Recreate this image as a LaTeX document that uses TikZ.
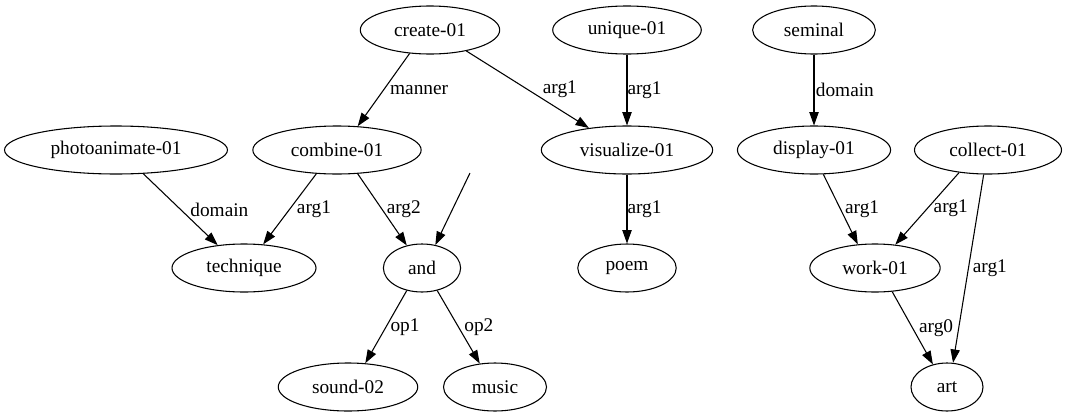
\documentclass[tikz,border=0pt]{standalone}
\usepackage{fontspec}
\setmainfont{Liberation Serif}
\usetikzlibrary{shapes.geometric,arrows.meta}

\begin{document}
\begin{tikzpicture}[
  x = 0.75pt, y = -0.75pt,
  line width = 0.8pt,
  >= {Triangle[length = 10pt, width = 7pt]},
  every node/.style = {font = \fontsize{14.5}{16}\selectfont},
  concept/.style = {draw, ellipse, minimum width = 54pt, minimum height = 36pt,
                    inner xsep = 10pt, inner ysep = 0pt},
  role/.style = {midway, anchor = west, inner sep = 0pt, xshift = #1},
  role/.default = 3pt,
  ]
  \useasboundingbox (0,0) rectangle (1067,418);

  % top row
  \node[concept] (create)  at (430,30) {create-01};
  \node[concept] (unique)  at (627,30) {unique-01};
  \node[concept] (seminal) at (814,30) {seminal};

  % second row
  \node[concept] (photo)     at (116,150) {photoanimate-01};
  \node[concept] (combine)   at (337,150) {combine-01};
  \node[concept] (visualize) at (627,150) {visualize-01};
  \node[concept] (display)   at (814,150) {display-01};
  \node[concept] (collect)   at (988,150) {collect-01};
  \coordinate (stub) at (470,173);

  % third row
  \node[concept] (technique) at (244,268) {technique};
  \node[concept] (and)       at (422,268) {and};
  \node[concept] (poem)      at (627,268) {poem};
  \node[concept] (work)      at (875,268) {work-01};

  % bottom row
  \node[concept] (sound) at (348,387) {sound-02};
  \node[concept] (music) at (495,387) {music};
  \node[concept] (art)   at (947,387) {art};

  \draw[->] (create.229) -- node[role = 4.5pt] {manner} (combine.49);
  \draw[->] (create.-30) -- node[role = 11pt] {arg1} (visualize.150);
  \draw[->] (unique.south) -- node[role = 0pt] {arg1} (visualize.north);
  \draw[->] (seminal.south) -- node[role = 1pt] {domain} (display.north);
  \draw[->] (photo.-41) -- node[role = 7pt] {domain} (technique.139);
  \draw[->] (combine.229) -- node[role = 5pt] {arg1} (technique.51);
  \draw[->] (combine.-49) -- node[role] {arg2} (and.124);
  \draw[->] (stub) -- (and.60);
  \draw[->] (visualize.south) -- node[role = 0pt] {arg1} (poem.north);
  \draw[->] (display.-69) -- node[role] {arg1} (work.126);
  \draw[->] (collect.218) -- node[role = 4.5pt] {arg1} (work.49);
  \draw[->] (collect.260) -- node[role] {arg1} (art.76);
  \draw[->] (work.-54) -- node[role = 4.5pt] {arg0} (art.122);
  \draw[->] (and.236) -- node[role] {op1} (sound.54);
  \draw[->] (and.-56) -- node[role = 4pt] {op2} (music.123);
\end{tikzpicture}
\end{document}
